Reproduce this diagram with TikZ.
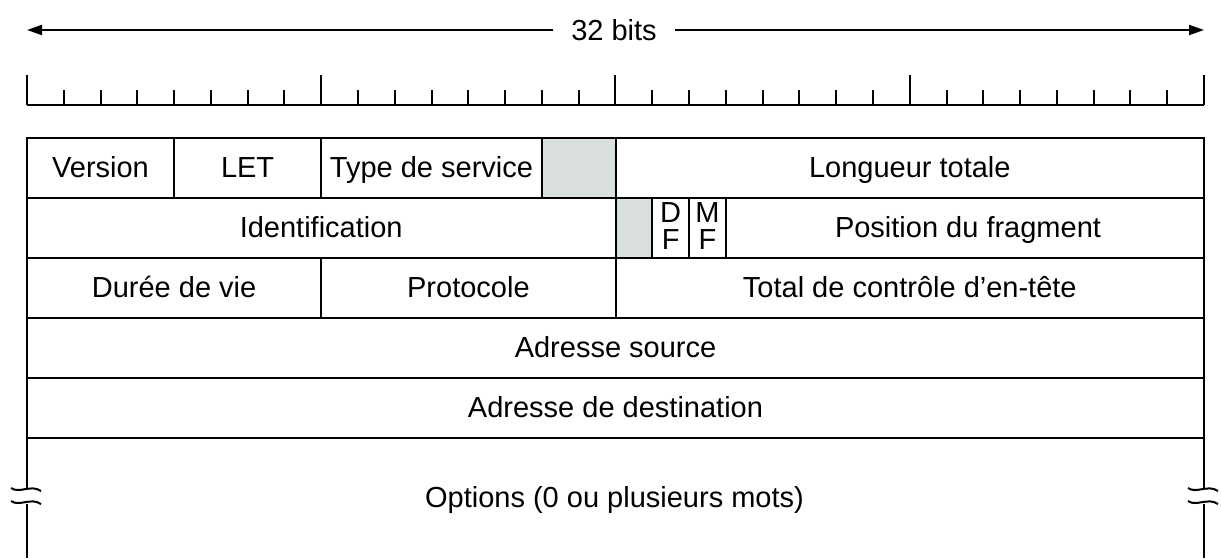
\documentclass[tikz,border=0pt]{standalone}
\usepackage{fontspec}
\setmainfont{Liberation Sans}
\usetikzlibrary{arrows.meta, positioning}
\definecolor{cellgray}{RGB}{217,224,222}

\begin{document}
\begin{tikzpicture}[x=0.5pt, y=-0.5pt, line width=1pt,
    every node/.style={font=\fontsize{14.5}{13.5}\selectfont, anchor=base, inner sep=0pt}]
\useasboundingbox (0,0) rectangle (1221,558);
% Width arrow
\node[inner xsep=8.5pt] (bits) at (614,40) {32 bits};
\coordinate (lend) at (27,30);
\coordinate (rend) at (1204,30);
\draw[-{Triangle[length=7.5pt,width=5pt]}] (bits.west |- lend) -- (lend);
\draw[-{Triangle[length=7.5pt,width=5pt]}] (bits.east |- rend) -- (rend);
% Ruler
\draw (27,105) -- (1204,105);
\foreach \i in {0,8,...,32} \draw (27+\i*36.78,105) -- ++(0,-30);
\foreach \i in {1,...,31} \draw (27+\i*36.78,105) -- ++(0,-15);
% Row 1
\draw (27,138) rectangle (174.1,198);
\draw (174.1,138) rectangle (321.2,198);
\draw (321.2,138) rectangle (541.9,198);
\draw[fill=cellgray] (541.9,138) rectangle (615.5,198);
\draw (615.5,138) rectangle (1204,198);
\node (version) at (100.5,177) {Version};
\node (let) at (247.6,177) {LET};
\node (tos) at (431.5,177) {Type de service};
\node (len) at (909.8,177) {Longueur totale};
% Row 2
\draw (27,198) rectangle (615.5,258);
\draw[fill=cellgray] (615.5,198) rectangle (652.3,258);
\draw (652.3,198) rectangle (689.1,258);
\draw (689.1,198) rectangle (725.8,258);
\draw (725.8,198) rectangle (1204,258);
\node (ident) at (321.2,237) {Identification};
\node[anchor=center, align=center] (df) at (670.7,226) {D\\F};
\node[anchor=center, align=center] (mf) at (707.5,226) {M\\F};
\node (frag) at (968,237) {Position du fragment};
% Row 3
\draw (27,258) rectangle (321.2,318);
\draw (321.2,258) rectangle (615.5,318);
\draw (615.5,258) rectangle (1204,318);
\node (ttl) at (174.1,297) {Durée de vie};
\node (proto) at (468.4,297) {Protocole};
\node (chk) at (909.8,297) {Total de contrôle d’en-tête};
% Rows 4 and 5
\draw (27,318) rectangle (1204,378);
\draw (27,378) rectangle (1204,438);
\node (src) at (615.5,357) {Adresse source};
\node (dst) at (615.5,417) {Adresse de destination};
% Options, open at the bottom
\draw (27,438) -- (27,490) (27,504) -- (27,558);
\draw (1204,438) -- (1204,490) (1204,504) -- (1204,558);
\foreach \x in {27,1204} \foreach \y in {490,503}
  \draw (\x-16,\y-2) .. controls (\x-8,\y+4) and (\x+4,\y-6) .. (\x+14,\y+1);
\node (opts) at (614.5,507) {Options (0 ou plusieurs mots)};
\end{tikzpicture}
\end{document}
